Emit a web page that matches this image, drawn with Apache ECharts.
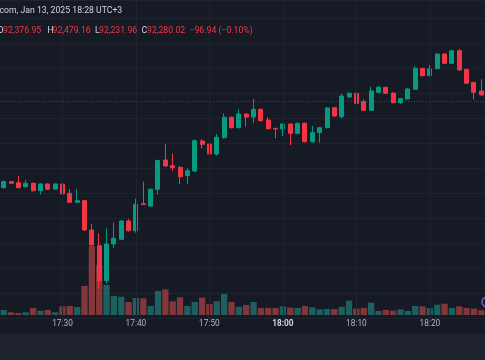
<!DOCTYPE html>
<html><head><meta charset="utf-8">
<script src="https://cdn.jsdelivr.net/npm/echarts@6/dist/echarts.min.js"></script>
<style>html,body{margin:0;padding:0;background:#161a25;}#c{width:485px;height:360px;}</style>
</head><body><div id="c"></div>
<script>
// 1-minute candles, 17:22 .. 18:27 (UTC+3)
const categories = [
 '17:22','17:23','17:24','17:25','17:26','17:27','17:28','17:29','17:30','17:31',
 '17:32','17:33','17:34','17:35','17:36','17:37','17:38','17:39','17:40','17:41',
 '17:42','17:43','17:44','17:45','17:46','17:47','17:48','17:49','17:50','17:51',
 '17:52','17:53','17:54','17:55','17:56','17:57','17:58','17:59','18:00','18:01',
 '18:02','18:03','18:04','18:05','18:06','18:07','18:08','18:09','18:10','18:11',
 '18:12','18:13','18:14','18:15','18:16','18:17','18:18','18:19','18:20','18:21',
 '18:22','18:23','18:24','18:25','18:26','18:27'];
const opens = [
 90890,90986,90970,90906,90960,90842,90949,90869,90949,90800,
 90656,90682,90213,89962,89402,89989,90064,90357,90202,90634,
 90597,90864,91333,91242,91216,91082,91157,91637,91589,91429,
 91690,92016,91850,92069,92021,92144,91973,91840,91829,91909,
 91760,91920,91626,91770,91850,92170,92026,92341,92400,92266,
 92128,92416,92496,92405,92250,92309,92464,92800,92682,92794,
 93029,92880,93082,92781,92576,92437];
const closes = [
 90986,90960,90890,90960,90842,90949,90864,90949,90789,90656,
 90682,90213,89973,89402,89989,90080,90357,90202,90624,90621,
 90864,91325,91237,91210,91066,91162,91642,91584,91429,91696,
 92016,91850,92069,92021,92144,91962,91834,91829,91909,91760,
 91920,91626,91770,91850,92165,92037,92357,92400,92240,92128,
 92437,92496,92400,92250,92314,92469,92800,92682,92794,93029,
 92880,93082,92773,92560,92416,92373];
const highs = [
 91005,90997,91077,91013,90973,90960,90960,90960,90960,90869,
 90864,90693,90309,90160,90240,90336,90373,90394,90714,90986,
 90877,91341,91589,91440,91237,91200,91664,91669,91597,91749,
 92080,92029,92144,92077,92309,92157,92016,91845,91917,91917,
 91933,91930,91877,91861,92181,92181,92389,92416,92442,92304,
 92506,92517,92504,92413,92325,92480,92837,92808,92853,93037,
 93037,93090,93109,92789,92584,92624];
const lows = [
 90877,90949,90885,90893,90829,90784,90853,90853,90757,90645,
 90645,90197,89957,89269,89360,89920,90053,90189,90170,90613,
 90581,90784,91229,91157,90944,90944,91141,91520,91402,91402,
 91677,91837,91837,91866,91920,91949,91821,91680,91717,91573,
 91749,91613,91613,91610,91837,92021,92000,92333,92170,92117,
 92117,92400,92389,92240,92229,92298,92456,92672,92672,92784,
 92872,92872,92765,92552,92304,92365];
const volumes = [
 5,2.7,2,2.7,7,4.3,5,2.7,8.7,9,
 8,29,69,50,30,19,18.3,13,17,16.7,
 9,24,25.7,13.7,17.7,9,13,17.3,11,13.7,
 21,13,8.3,10,13,7,7,7,8.7,7.3,
 7,9,7.7,5.7,6,6,8.3,14.3,6.3,7,
 12.3,4,5,4.3,5.7,4,9,8.7,7,10.3,
 11.3,7,8.7,7,6.3,4.7];
const timeTicks = ['17:30','17:40','17:50','18:00','18:10','18:20'];
const lastClose = 92280.02;
const headerLine1 = 'com, Jan 13, 2025 18:28 UTC+3';
const ohlcLabels = ['O','H','L','C'];
const ohlcValues = ['92,376.95','92,479.16','92,231.96','92,280.02'];
const changeText = '\u221296.94 (\u22120.10%)';

const up = '#089981', down = '#f23645';
const candleData = categories.map((_, i) => [opens[i], closes[i], lows[i], highs[i]]);
const volData = volumes.map((v, i) => ({
  value: v,
  itemStyle: { color: closes[i] >= opens[i] ? 'rgba(38,166,154,0.5)' : 'rgba(239,83,80,0.5)' }
}));

const FF = 'Roboto';
const FS = 8.7;
const textY2 = 31;
const labelX = [-2.5, 47.5, 95, 141.5];
const valueX = [3, 52.5, 99, 147];
function txt(text, x, y, fill) {
  return { type: 'text', z: 50, style: { text, x, y, fill, fontFamily: FF, fontSize: FS, verticalAlign: 'middle', align: 'left' } };
}
const graphics = [
  { type: 'rect', z: -10, shape: { x: 0, y: 334, width: 485, height: 26 }, style: { fill: '#1e222d' } },
  txt(headerLine1, -0.5, 11, '#d1d4dc'),
  { type: 'circle', shape: { cx: 487, cy: 302, r: 5 }, style: { fill: '#161a25', stroke: '#9457d4', lineWidth: 1.3 } }
];
ohlcLabels.forEach((l, i) => {
  graphics.push(txt(l, labelX[i], textY2, '#d1d4dc'));
  graphics.push(txt(ohlcValues[i], valueX[i], textY2, down));
});
graphics.push(txt(changeText, 189.5, textY2, down));

const chart = echarts.init(document.getElementById('c'));
chart.setOption({
  backgroundColor: '#161a25',
  animation: false,
  textStyle: { fontFamily: FF },
  grid: [
    { left: -1.9, width: 488.4, top: 0, height: 318.3 },
    { left: -1.9, width: 488.4, top: 0, height: 315 }
  ],
  xAxis: [
    { type: 'category', data: categories, gridIndex: 0, show: false },
    { type: 'category', data: categories, gridIndex: 1,
      axisLine: { show: false }, axisTick: { show: false }, splitLine: { show: false },
      axisLabel: {
        interval: (i, v) => timeTicks.indexOf(v) >= 0,
        margin: 5, color: '#b2b5be', fontSize: 8.3, fontFamily: FF,
        formatter: v => v === '18:00' ? '{b|' + v + '}' : v,
        rich: { b: { fontWeight: 'bold', color: '#d1d4dc', fontSize: 8.3, fontFamily: FF } }
      }
    }
  ],
  yAxis: [
    { type: 'value', gridIndex: 0, min: 88800, max: 93893, interval: 400, scale: true,
      axisLabel: { show: false }, axisLine: { show: false }, axisTick: { show: false },
      splitLine: { show: true, lineStyle: { color: '#1f2330', width: 1 } } },
    { type: 'value', gridIndex: 1, min: 0, max: 315, show: false, splitLine: { show: false } }
  ],
  series: [
    { type: 'line', xAxisIndex: 0, yAxisIndex: 0, data: [], z: 0, silent: true,
      markLine: { symbol: 'none', silent: true, label: { show: false },
        lineStyle: { color: '#1f2330', type: 'solid', width: 1 },
        data: timeTicks.map(t => ({ xAxis: t })) } },
    { type: 'bar', xAxisIndex: 1, yAxisIndex: 1, data: volData, barWidth: 6.3, z: 1, silent: true },
    { type: 'candlestick', xAxisIndex: 0, yAxisIndex: 0, data: candleData, barWidth: 4.5, z: 3,
      itemStyle: { color: up, color0: down, borderColor: up, borderColor0: down, borderWidth: 1 },
      markLine: { symbol: 'none', silent: true, label: { show: false },
        lineStyle: { color: 'rgba(242,54,69,0.55)', type: [1, 2], width: 1 },
        data: [{ yAxis: lastClose }] } }
  ],
  graphic: graphics
});
</script></body></html>
